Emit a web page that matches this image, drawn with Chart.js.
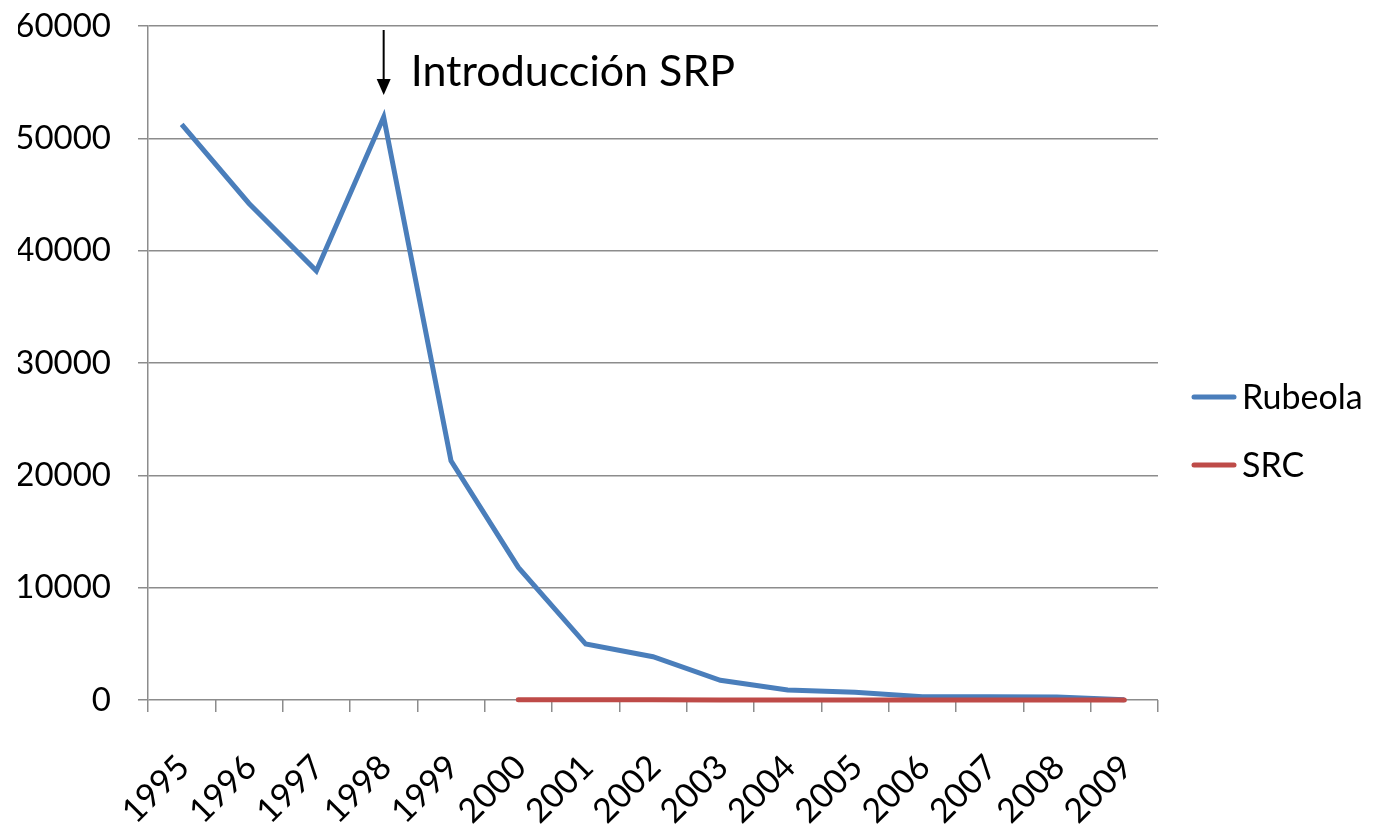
<!DOCTYPE html>
<html>
<head>
<meta charset="utf-8">
<script src="https://cdn.jsdelivr.net/npm/chart.js@4"></script>
<style>
  html, body { margin: 0; padding: 0; background: #fff; }
  #wrap { width: 1375px; height: 835px; }
</style>
</head>
<body>
<div id="wrap"><canvas id="lineChart"></canvas></div>
<script>
const years = ['1995', '1996', '1997', '1998', '1999', '2000', '2001', '2002', '2003', '2004', '2005', '2006', '2007', '2008', '2009'];
const rubeola = [51250, 44200, 38200, 51900, 21300, 11800, 4980, 3850, 1750, 890, 690, 290, 280, 260, 30];
const src = [null, null, null, null, null, 25, 15, 12, 10, 8, 6, 5, 4, 3, 2];
const yTicks = [0, 10000, 20000, 30000, 40000, 50000, 60000];
const seriesNames = ['Rubeola', 'SRC'];
const seriesColors = ['#4a7ebb', '#be4b48'];
const noteText = 'Introducción SRP';
const noteYear = '1998';

const FONT = 'Lato, "Open Sans", sans-serif';

// arrow + text above 1998, and the legend at the right
const extras = {
    id: 'extras',
    afterDraw(chart) {
        const c = chart.ctx;
        const area = chart.chartArea;
        const x = chart.scales.x.getPixelForValue(years.indexOf(noteYear));
        c.save();
        c.strokeStyle = '#000';
        c.fillStyle = '#000';
        c.lineWidth = 2;
        c.beginPath();
        c.moveTo(x, area.top + 4);
        c.lineTo(x, area.top + 56);
        c.stroke();
        c.beginPath();
        c.moveTo(x - 7, area.top + 53);
        c.lineTo(x + 7, area.top + 53);
        c.lineTo(x, area.top + 69);
        c.closePath();
        c.fill();
        c.font = '43px ' + FONT;
        c.textBaseline = 'alphabetic';
        c.fillText(noteText, x + 27, area.top + 60);

        const mid = (area.top + area.bottom) / 2 + 68;
        c.font = '34px ' + FONT;
        c.textBaseline = 'middle';
        seriesNames.forEach(function(name, i) {
            const y = mid + (i === 0 ? -34 : 34);
            c.strokeStyle = seriesColors[i];
            c.lineWidth = 5;
            c.lineCap = 'round';
            c.beginPath();
            c.moveTo(area.right + 36, y);
            c.lineTo(area.right + 76, y);
            c.stroke();
            c.fillStyle = '#000';
            c.fillText(name, area.right + 84, y + 1);
        });
        c.restore();
    }
};

document.addEventListener('DOMContentLoaded', function() {
    const ctx = document.getElementById('lineChart').getContext('2d');

    new Chart(ctx, {
        type: 'line',
        data: {
            labels: years,
            datasets: [{
                label: seriesNames[0],
                data: rubeola,
                borderColor: seriesColors[0],
                borderWidth: 5,
                pointRadius: 0,
                order: 1,
                clip: 6,
                tension: 0
            }, {
                label: seriesNames[1],
                data: src,
                borderColor: seriesColors[1],
                borderWidth: 5,
                pointRadius: 0,
                borderCapStyle: 'round',
                order: 0,
                clip: 6,
                tension: 0
            }]
        },
        options: {
            responsive: true,
            maintainAspectRatio: false,
            animation: false,
            layout: { padding: { left: 18, right: 217, top: 26, bottom: 0 } },
            plugins: {
                legend: { display: false },
                tooltip: { enabled: false }
            },
            scales: {
                x: {
                    offset: true,
                    afterFit(scale) {
                        scale.height = 135;
                        scale.paddingLeft = 0;
                        scale.paddingRight = 0;
                    },
                    grid: {
                        offset: true,
                        drawOnChartArea: false,
                        drawTicks: true,
                        tickLength: 12,
                        color: '#8c8c8c',
                        lineWidth: 1.5
                    },
                    border: { display: false },
                    ticks: {
                        color: '#000',
                        font: { family: FONT, size: 34 },
                        minRotation: 45,
                        maxRotation: 45,
                        padding: 35,
                        labelOffset: 2,
                        autoSkip: false
                    }
                },
                y: {
                    min: 0,
                    max: 60000,
                    afterBuildTicks(axis) {
                        axis.ticks = yTicks.map(function(v) { return { value: v }; });
                    },
                    afterFit(scale) {
                        scale.width = 130;
                        scale.paddingTop = 0;
                        scale.paddingBottom = 0;
                    },
                    grid: {
                        color: '#8c8c8c',
                        lineWidth: 1.5,
                        tickLength: 10
                    },
                    border: { display: true, color: '#8c8c8c', width: 1.5 },
                    ticks: {
                        color: '#000',
                        font: { family: FONT, size: 33 },
                        padding: 27,
                        callback: function(v) { return String(v); }
                    }
                }
            }
        },
        plugins: [extras]
    });
});
</script>
</body>
</html>
